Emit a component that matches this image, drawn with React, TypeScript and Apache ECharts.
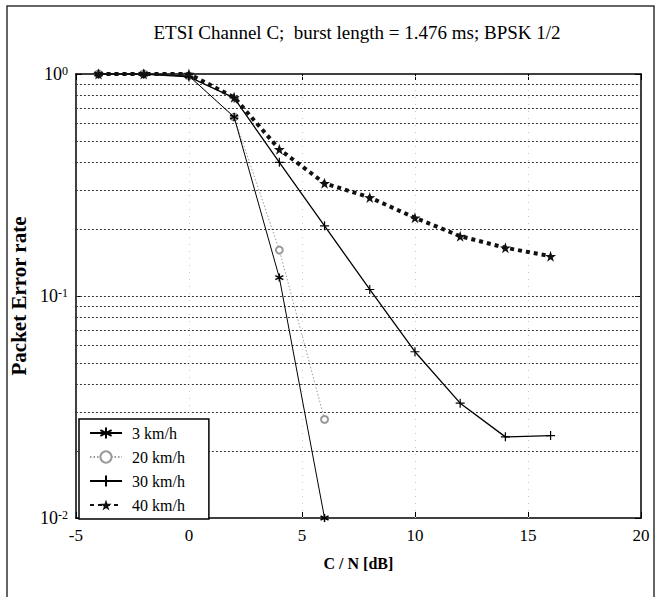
import React, { useEffect, useRef } from 'react';
import * as echarts from 'echarts';

const chartTitle = 'ETSI Channel C;  burst length = 1.476 ms; BPSK 1/2';
const xAxisName = 'C / N [dB]';
const yAxisName = 'Packet Error rate';
const seriesNames = ['3 km/h', '20 km/h', '30 km/h', '40 km/h'];

const snrShort = [-4, -2, 0, 2, 4, 6];
const snrLong = [-4, -2, 0, 2, 4, 6, 8, 10, 12, 14, 16];

const per3 = [1.0, 1.0, 0.98, 0.64, 0.121, 0.01];
const per20 = [1.0, 1.0, 0.98, 0.64, 0.161, 0.0278];
const per30 = [1.0, 1.0, 0.97, 0.78, 0.4, 0.207, 0.107, 0.0561, 0.0329, 0.0232, 0.0235];
const per40 = [1.0, 1.0, 1.0, 0.785, 0.458, 0.322, 0.278, 0.225, 0.186, 0.165, 0.151];

const yGridLevels = [0.02, 0.03, 0.04, 0.05, 0.06, 0.07, 0.08, 0.09, 0.1, 0.2, 0.3, 0.4, 0.5, 0.6, 0.7, 0.8, 0.9];
const xGridLevels = [0, 5, 10, 15];

const xMin = -5;
const xMax = 20;
const xStep = 5;
const yMin = 0.01;
const yMax = 1;

const FONT = '"Liberation Serif", "Times New Roman", serif';

const asteriskPath = 'path://M5,0L5,10M0.67,2.5L9.33,7.5M0.67,7.5L9.33,2.5';
const plusPath = 'path://M5,0L5,10M0,5L10,5';
const starPath =
  'path://M50,0L61.8,35.3L97.6,34.5L68.1,57.3L79.4,90.5L50,70L20.6,90.5L31.9,57.3L2.4,34.5L38.2,35.3Z';

function zip(xs: number[], ys: number[]) {
  return ys.map((y, i) => [xs[i], y]);
}

export default function App() {
  const ref = useRef<HTMLDivElement>(null);

  useEffect(() => {
    if (!ref.current) return;
    const chart = echarts.init(ref.current, undefined, { renderer: 'svg' });

    const axisLineStyle = { color: '#000', width: 1.5 };

    const option: any = {
      animation: false,
      backgroundColor: '#fff',
      textStyle: { fontFamily: FONT },
      graphic: [
        {
          type: 'rect',
          silent: true,
          z: -10,
          shape: { x: 7, y: 6, width: 647, height: 600 },
          style: { fill: 'none', stroke: '#333', lineWidth: 1.5 },
        },
        {
          type: 'text',
          x: 357,
          y: 32,
          style: {
            text: chartTitle,
            font: `19px ${FONT}`,
            fill: '#000',
            align: 'center',
            verticalAlign: 'middle',
          },
        },
      ],
      grid: { left: 73, right: 20, top: 74, bottom: 79, show: false },
      legend: {
        data: seriesNames,
        orient: 'vertical',
        left: 79,
        top: 419,
        backgroundColor: '#fff',
        borderColor: '#000',
        borderWidth: 1.5,
        padding: [6, 24, 6, 10],
        itemGap: 8,
        itemWidth: 32,
        itemHeight: 14,
        textStyle: { fontFamily: FONT, fontSize: 16, color: '#000', padding: [0, 0, 0, 5] },
        z: 20,
      },
      xAxis: [
        {
          type: 'value',
          min: xMin,
          max: xMax,
          interval: xStep,
          name: xAxisName,
          nameLocation: 'middle',
          nameGap: 37,
          nameTextStyle: { fontFamily: FONT, fontSize: 16, fontWeight: 'bold', color: '#000' },
          axisLine: { show: true, onZero: false, lineStyle: axisLineStyle },
          axisTick: { show: true, inside: true, length: 6, lineStyle: { color: '#000' } },
          axisLabel: { fontFamily: FONT, fontSize: 17, color: '#000', margin: 9 },
          splitLine: { show: false },
        },
        {
          type: 'value',
          position: 'top',
          min: xMin,
          max: xMax,
          interval: xStep,
          axisLine: { show: true, onZero: false, lineStyle: axisLineStyle },
          axisTick: { show: true, inside: true, length: 6, lineStyle: { color: '#000' } },
          axisLabel: { show: false },
          splitLine: { show: false },
        },
      ],
      yAxis: [
        {
          type: 'log',
          logBase: 10,
          min: yMin,
          max: yMax,
          name: yAxisName,
          nameLocation: 'middle',
          nameGap: 44,
          nameRotate: 90,
          nameTextStyle: { fontFamily: FONT, fontSize: 21, fontWeight: 'bold', color: '#000' },
          axisLine: { show: true, onZero: false, lineStyle: axisLineStyle },
          axisTick: { show: true, inside: true, length: 6, lineStyle: { color: '#000' } },
          axisLabel: {
            margin: 8,
            formatter: (v: number) => `{b|10}{s|${Math.round(Math.log10(v))}}`,
            rich: {
              b: { fontFamily: FONT, fontSize: 18, color: '#000', lineHeight: 18, verticalAlign: 'middle' },
              s: { fontFamily: FONT, fontSize: 12, color: '#000', lineHeight: 12, verticalAlign: 'top' },
            },
            lineHeight: 30,
          },
          splitLine: { show: false },
        },
        {
          type: 'log',
          logBase: 10,
          min: yMin,
          max: yMax,
          position: 'right',
          axisLine: { show: true, onZero: false, lineStyle: axisLineStyle },
          axisTick: { show: true, inside: true, length: 6, lineStyle: { color: '#000' } },
          axisLabel: { show: false },
          splitLine: { show: false },
        },
      ],
      series: [
        {
          name: 'grid',
          type: 'line',
          data: [],
          z: 1,
          silent: true,
          markLine: {
            silent: true,
            symbol: ['none', 'none'],
            label: { show: false },
            animation: false,
            data: [
              ...yGridLevels.map((v) => ({
                yAxis: v,
                lineStyle: { color: '#333', width: 1, type: [2, 2] },
              })),
              ...xGridLevels.map((v) => ({
                xAxis: v,
                lineStyle: { color: '#c8c8c8', width: 1, type: [1, 6] },
              })),
            ],
          },
        },
        {
          name: seriesNames[0],
          type: 'line',
          z: 5,
          data: zip(snrShort, per3),
          symbol: asteriskPath,
          symbolSize: 8,
          lineStyle: { color: '#000', width: 1 },
          itemStyle: { color: '#000', borderColor: '#000', borderWidth: 1.5 },
        },
        {
          name: seriesNames[1],
          type: 'line',
          z: 4,
          data: zip(snrShort, per20),
          symbol: 'emptyCircle',
          symbolSize: 7,
          lineStyle: { color: '#9a9a9a', width: 1, type: [1.5, 2] },
          itemStyle: { color: '#9a9a9a', borderColor: '#9a9a9a', borderWidth: 1 },
        },
        {
          name: seriesNames[2],
          type: 'line',
          z: 5,
          data: zip(snrLong, per30),
          symbol: plusPath,
          symbolSize: 9,
          lineStyle: { color: '#000', width: 1.3 },
          itemStyle: { color: '#000', borderColor: '#000', borderWidth: 1.2 },
        },
        {
          name: seriesNames[3],
          type: 'line',
          z: 6,
          data: zip(snrLong, per40),
          symbol: starPath,
          symbolSize: 11,
          lineStyle: { color: '#111', width: 4, type: [4, 4], cap: 'butt' },
          itemStyle: { color: '#111', borderColor: '#111', borderWidth: 0 },
        },
      ],
    };

    chart.setOption(option);
    return () => {
      chart.dispose();
    };
  }, []);

  return (
    <div
      ref={ref}
      style={{ position: 'fixed', left: 0, top: 0, width: 661, height: 597, background: '#fff' }}
    />
  );
}
